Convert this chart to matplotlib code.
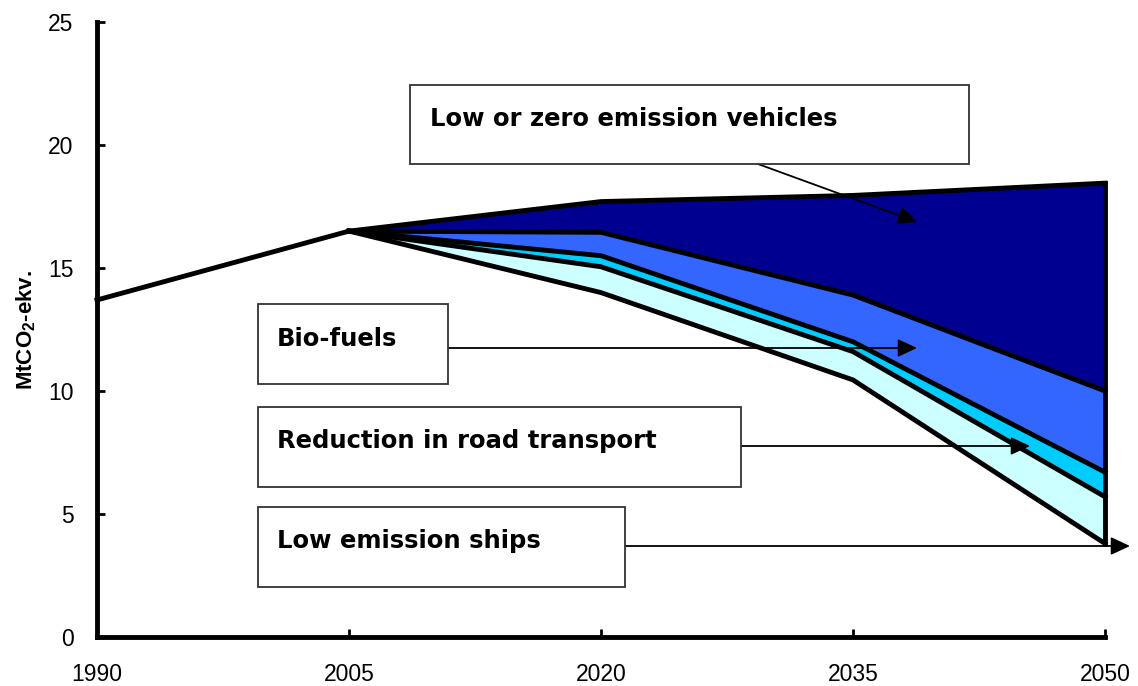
import matplotlib.pyplot as plt
import numpy as np

years = ['1990', '2005', '2020', '2035', '2050']
hist = [13.7, 16.5]
base = [16.5, 14.0, 10.45, 3.8]       # remaining emissions, 2005-2050
ships = [16.5, 15.05, 11.6, 5.7]
road = [16.5, 15.5, 12.0, 6.7]
bio = [16.5, 16.45, 13.9, 10.0]
lzev = [16.5, 17.7, 17.95, 18.45]

labels = ['Low or zero emission vehicles', 'Bio-fuels',
          'Reduction in road transport', 'Low emission ships']

plt.rcParams['mathtext.fontset'] = 'custom'
plt.rcParams['mathtext.rm'] = 'Liberation Sans:bold'
plt.rcParams['mathtext.default'] = 'rm'

W, H = 1138, 686
fig = plt.figure(figsize=(W / 100, H / 100), dpi=100)
ax = fig.add_axes([97 / W, 1 - 637 / H, (1105 - 97) / W, (637 - 22) / H])

x = np.arange(len(years))
xf = x[1:]

ax.fill_between(xf, base, ships, color='#CCFFFF', lw=0)
ax.fill_between(xf, ships, road, color='#00CCFF', lw=0)
ax.fill_between(xf, road, bio, color='#3366FF', lw=0)
ax.fill_between(xf, bio, lzev, color='#000090', lw=0)

for s in [base, ships, road, bio, lzev]:
    ax.plot(xf, s, color='black', lw=3.5, solid_joinstyle='miter', clip_on=False)
ax.plot(x[:2], hist, color='black', lw=3.5, clip_on=False)
ax.plot([xf[-1], xf[-1]], [base[-1], lzev[-1]], color='black', lw=3.5, clip_on=False)

ax.set_xlim(0, 4)
ax.set_ylim(0, 25)
ax.set_xticks(x)
ax.set_xticklabels(years)
ax.set_yticks(range(0, 26, 5))
for sp in ['top', 'right']:
    ax.spines[sp].set_visible(False)
for sp in ['left', 'bottom']:
    ax.spines[sp].set_linewidth(3.5)
ax.tick_params(axis='both', direction='in', length=6, width=2,
               labelsize=16.5)
ax.tick_params(axis='x', pad=19)
ax.tick_params(axis='y', pad=17)
for t in ax.get_xticklabels() + ax.get_yticklabels():
    t.set_family(['Liberation Sans', 'DejaVu Sans'])
ax.set_ylabel('MtCO$_2$-ekv.', fontsize=16, fontweight='bold',
              family=['Liberation Sans', 'DejaVu Sans'], labelpad=7)


def px(a, b):
    return (a / W, 1 - b / H)


# text boxes (pixel layout)
boxes = [(410, 85, 969, 164, 430, 119),
         (258, 304, 448, 384, 277, 339),
         (258, 407, 741, 487, 277, 441),
         (258, 507, 625, 587, 277, 541)]
arrows = [((758, 164), (917, 222)),
          ((448, 348), (917, 348)),
          ((741, 446), (1030, 446)),
          ((625, 546), (1130, 546))]

for (tail, head) in arrows:
    ax.annotate('', xy=px(*head), xycoords='figure fraction',
                xytext=px(*tail), textcoords='figure fraction',
                arrowprops=dict(arrowstyle='-|>,head_length=0.9,head_width=0.42',
                                mutation_scale=13, color='black', lw=1.3,
                                shrinkA=0, shrinkB=0),
                annotation_clip=False)

for lab, (x0, y0, x1, y1, tx, ty) in zip(labels, boxes):
    r = plt.Rectangle(px(x0, y1), (x1 - x0) / W, (y1 - y0) / H,
                      transform=fig.transFigure, facecolor='white',
                      edgecolor='#333333', lw=1.3)
    fig.add_artist(r)
    fig.text(*px(tx, ty), lab, fontsize=17.5, fontweight='bold',
             va='center', ha='left', family='DejaVu Sans')

fig.savefig('out.png', dpi=100)
